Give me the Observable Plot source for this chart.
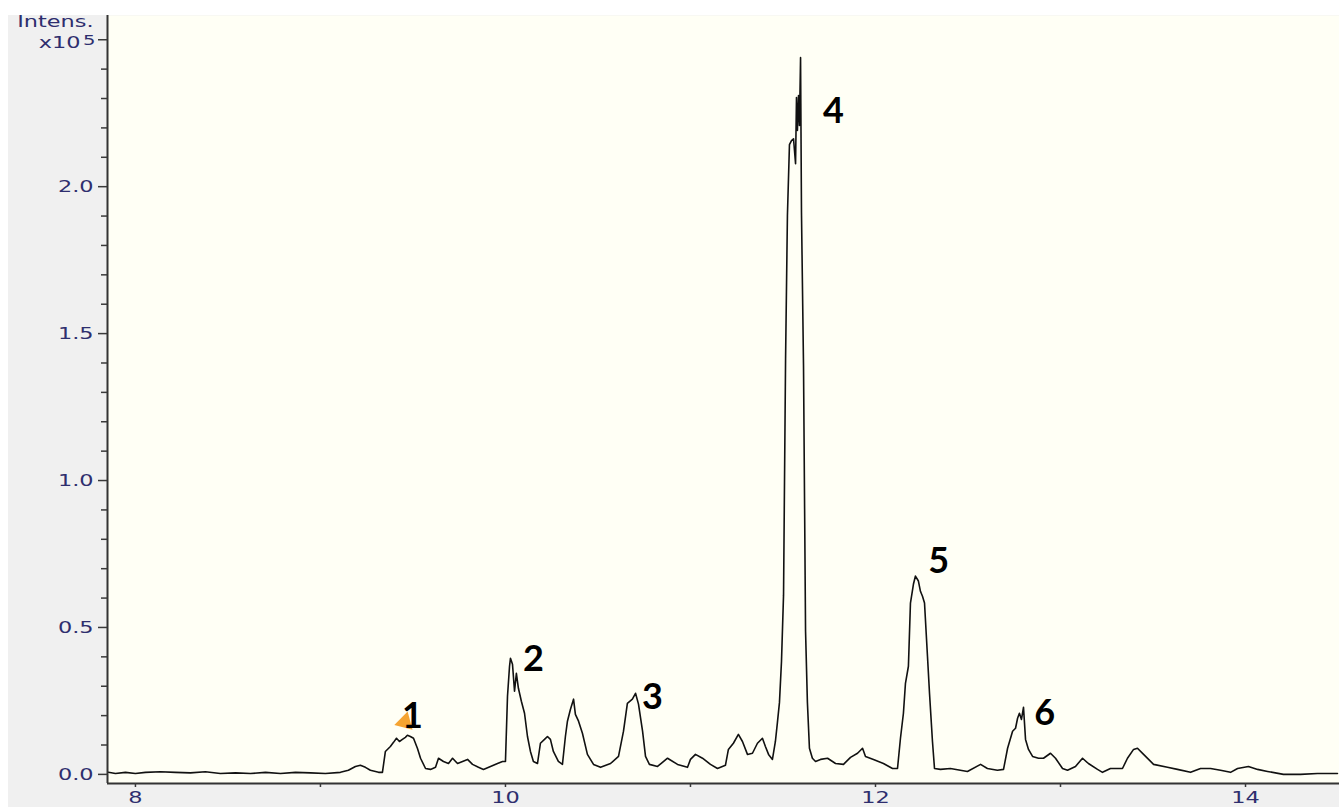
<!DOCTYPE html>
<html><head><meta charset="utf-8">
<script src="https://cdn.jsdelivr.net/npm/d3@7"></script>
<script src="https://cdn.jsdelivr.net/npm/@observablehq/plot@0.6"></script>
<style>
html,body{margin:0;padding:0;background:#ffffff;}
#chart{position:absolute;left:8px;top:15px;}
#chart svg{background:#F0F0F0;display:block;overflow:visible;}
</style></head><body><div id="chart"></div>
<script>
// retention time (min)
const times = [7.854, 7.892, 7.946, 8.000, 8.054, 8.135, 8.216, 8.297, 8.378, 8.459, 8.541, 8.622, 8.703, 8.784, 8.865, 8.946, 9.027, 9.108, 9.151, 9.189, 9.216, 9.243, 9.270, 9.314, 9.335, 9.351, 9.378, 9.395, 9.411, 9.427, 9.443, 9.459, 9.470, 9.486, 9.503, 9.524, 9.541, 9.568, 9.595, 9.622, 9.638, 9.665, 9.692, 9.714, 9.741, 9.768, 9.795, 9.822, 9.854, 9.881, 9.919, 9.957, 9.984, 10.000, 10.011, 10.022, 10.027, 10.038, 10.049, 10.059, 10.070, 10.086, 10.103, 10.119, 10.135, 10.151, 10.173, 10.189, 10.211, 10.227, 10.243, 10.259, 10.286, 10.308, 10.324, 10.335, 10.351, 10.368, 10.378, 10.395, 10.416, 10.443, 10.476, 10.514, 10.568, 10.611, 10.638, 10.659, 10.686, 10.703, 10.719, 10.741, 10.757, 10.778, 10.822, 10.876, 10.930, 10.984, 11.000, 11.027, 11.065, 11.108, 11.146, 11.189, 11.205, 11.232, 11.259, 11.281, 11.308, 11.335, 11.362, 11.389, 11.405, 11.422, 11.443, 11.459, 11.470, 11.481, 11.492, 11.503, 11.514, 11.524, 11.535, 11.546, 11.557, 11.568, 11.573, 11.578, 11.584, 11.589, 11.595, 11.600, 11.611, 11.622, 11.632, 11.643, 11.659, 11.676, 11.703, 11.741, 11.784, 11.827, 11.865, 11.903, 11.930, 11.946, 11.989, 12.043, 12.092, 12.119, 12.135, 12.151, 12.162, 12.178, 12.189, 12.205, 12.216, 12.232, 12.243, 12.254, 12.265, 12.281, 12.292, 12.308, 12.319, 12.351, 12.405, 12.497, 12.568, 12.605, 12.659, 12.692, 12.714, 12.741, 12.757, 12.768, 12.778, 12.789, 12.800, 12.811, 12.827, 12.849, 12.881, 12.908, 12.946, 12.973, 13.011, 13.038, 13.081, 13.119, 13.151, 13.200, 13.227, 13.270, 13.335, 13.362, 13.395, 13.416, 13.449, 13.503, 13.578, 13.632, 13.703, 13.757, 13.811, 13.865, 13.919, 13.957, 14.016, 14.065, 14.119, 14.205, 14.297, 14.389, 14.497];
// intensity (x10^5)
const intensities = [0.007, 0.003, 0.007, 0.003, 0.007, 0.009, 0.007, 0.005, 0.009, 0.003, 0.005, 0.003, 0.007, 0.003, 0.007, 0.005, 0.003, 0.007, 0.014, 0.027, 0.031, 0.024, 0.014, 0.007, 0.007, 0.078, 0.095, 0.109, 0.123, 0.112, 0.119, 0.126, 0.133, 0.129, 0.123, 0.089, 0.055, 0.020, 0.017, 0.024, 0.055, 0.044, 0.037, 0.055, 0.037, 0.044, 0.051, 0.034, 0.024, 0.017, 0.027, 0.037, 0.044, 0.044, 0.266, 0.368, 0.395, 0.375, 0.283, 0.344, 0.293, 0.249, 0.208, 0.129, 0.078, 0.044, 0.037, 0.106, 0.119, 0.129, 0.119, 0.078, 0.044, 0.034, 0.129, 0.181, 0.221, 0.256, 0.204, 0.181, 0.140, 0.068, 0.034, 0.024, 0.037, 0.061, 0.147, 0.242, 0.256, 0.276, 0.239, 0.147, 0.061, 0.034, 0.027, 0.055, 0.034, 0.024, 0.051, 0.068, 0.055, 0.034, 0.020, 0.031, 0.085, 0.106, 0.136, 0.112, 0.068, 0.072, 0.106, 0.123, 0.095, 0.068, 0.051, 0.112, 0.177, 0.245, 0.385, 0.610, 1.414, 1.901, 2.143, 2.157, 2.163, 2.078, 2.303, 2.191, 2.310, 2.208, 2.439, 1.911, 1.390, 0.487, 0.245, 0.089, 0.055, 0.044, 0.051, 0.055, 0.037, 0.034, 0.058, 0.072, 0.089, 0.061, 0.051, 0.037, 0.020, 0.020, 0.123, 0.208, 0.310, 0.368, 0.583, 0.647, 0.675, 0.658, 0.623, 0.606, 0.583, 0.402, 0.276, 0.112, 0.020, 0.017, 0.020, 0.010, 0.034, 0.020, 0.014, 0.017, 0.089, 0.147, 0.157, 0.191, 0.208, 0.187, 0.228, 0.119, 0.085, 0.061, 0.055, 0.055, 0.072, 0.055, 0.020, 0.014, 0.027, 0.055, 0.037, 0.017, 0.007, 0.020, 0.020, 0.055, 0.085, 0.089, 0.068, 0.034, 0.024, 0.017, 0.007, 0.020, 0.020, 0.014, 0.007, 0.020, 0.027, 0.017, 0.010, 0.000, 0.000, 0.003, 0.003];

const peakNames = ["1", "2", "3", "4", "5", "6"];
const peakTimes = [9.497, 10.151, 10.795, 11.773, 12.341, 12.914];
const peakHeights = [0.197, 0.391, 0.262, 2.256, 0.725, 0.208];

const markerTimes = [9.456];
const markerHeights = [0.178];

const xMajor = [8, 10, 12, 14];
const xMinor = [9, 11, 13];
const yMajor = [0, 0.5, 1.0, 1.5, 2.0];
const yTop = [2.5];
const yMinor = [0.1, 0.2, 0.3, 0.4, 0.6, 0.7, 0.8, 0.9, 1.1, 1.2, 1.3, 1.4, 1.6, 1.7, 1.8, 1.9, 2.1, 2.2, 2.3, 2.4];
const unitTitle = ["Intens."];
const unitPower = ["x10"];
const unitExp = ["5"];

const xDomain = [7.849, 14.508];
const yDomain = [-0.031, 2.5825];

const n = Math.min(times.length, intensities.length);
const trace = [];
for (let i = 0; i < n; i++) trace.push({t: times[i], v: intensities[i]});

const labelColor = "#2e2e6e";
const tickColor = "#3a3a3a";

const plot = Plot.plot({
  width: 1331,
  height: 792,
  marginLeft: 99,
  marginTop: 0,
  marginRight: 0,
  marginBottom: 24,
  style: {fontFamily: "'DejaVu Sans', Verdana, sans-serif", fontSize: "16px", background: "#F0F0F0", color: labelColor, overflow: "visible"},
  x: {domain: xDomain, label: null},
  y: {domain: yDomain, label: null},
  marks: [
    Plot.frame({fill: "#FFFFF5", stroke: "none"}),
    Plot.line(trace, {x: "t", y: "v", stroke: "#111111", strokeWidth: 1.6}),
    Plot.ruleX([xDomain[0]], {stroke: "#333333", strokeWidth: 2}),
    Plot.ruleY([yDomain[0]], {stroke: "#333333", strokeWidth: 2}),
    Plot.axisY(yMajor, {tickSize: 9, tickPadding: 5, tickFormat: d => d.toFixed(1), stroke: tickColor, strokeWidth: 1.5, fill: labelColor, label: null}),
    Plot.axisY(yTop, {tickSize: 9, stroke: tickColor, strokeWidth: 1.5, fill: "none", label: null}),
    Plot.axisY(yMinor, {tickSize: 6, stroke: tickColor, strokeWidth: 1.5, fill: "none", label: null}),
    Plot.axisX(xMajor, {tickSize: 4, tickPadding: 4, tickFormat: d => String(d), stroke: tickColor, strokeWidth: 1.5, fill: labelColor, label: null}),
    Plot.axisX(xMinor, {tickSize: 4, stroke: tickColor, strokeWidth: 1.5, fill: "none", label: null}),
    Plot.text(unitTitle, {x: () => xDomain[0], y: () => yTop[0], text: d => d, textAnchor: "end", lineAnchor: "bottom", dx: -14, dy: -13, fill: labelColor}),
    Plot.text(unitPower, {x: () => xDomain[0], y: () => yTop[0], text: d => d, textAnchor: "end", lineAnchor: "bottom", dx: -27, dy: 8, fill: labelColor}),
    Plot.text(unitExp, {x: () => xDomain[0], y: () => yTop[0], text: d => d, textAnchor: "end", lineAnchor: "bottom", dx: -12, dy: 5, fontSize: 14, fill: labelColor}),
    Plot.dot(markerTimes, {x: d => d, y: (d, i) => markerHeights[i], symbol: "triangle", r: 7, fill: "#F5A432", stroke: "none", rotate: 135}),
    Plot.text(peakNames, {x: (d, i) => peakTimes[i], y: (d, i) => peakHeights[i], text: d => d, fontSize: 36, fontWeight: "bold", fontFamily: "Lato, 'Liberation Sans', sans-serif", fill: "#000000"})
  ]
});

document.getElementById("chart").appendChild(plot);

// stretch the axis-style lettering horizontally, like the wide instrument font
for (const el of plot.querySelectorAll("text")) {
  if (getComputedStyle(el).fontSize === "36px") continue;
  const tr = el.getAttribute("transform");
  if (tr) {
    el.setAttribute("transform", tr + " scale(1.4,1)");
  } else {
    const x = +el.getAttribute("x") || 0, y = +el.getAttribute("y") || 0;
    el.removeAttribute("x"); el.removeAttribute("y");
    el.setAttribute("transform", `translate(${x},${y}) scale(1.4,1)`);
  }
}
</script>
</body></html>
